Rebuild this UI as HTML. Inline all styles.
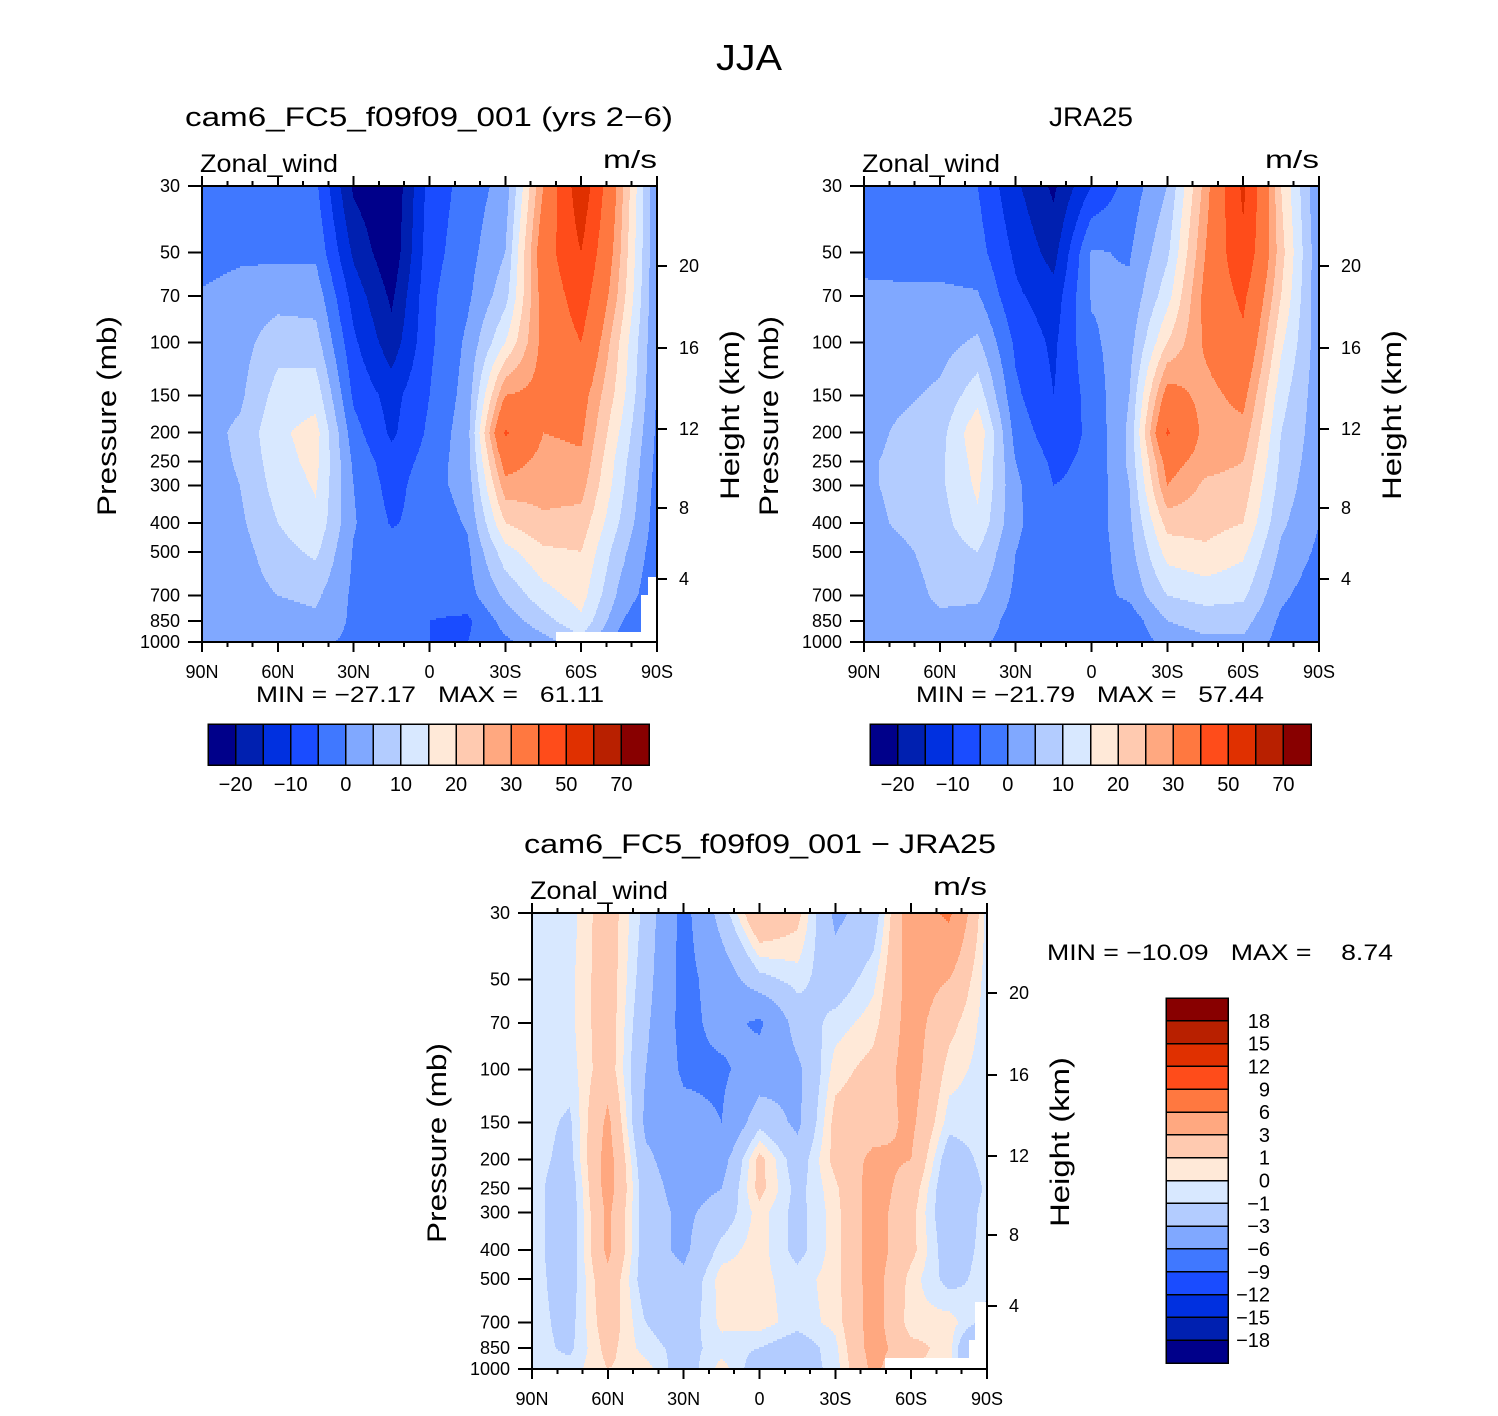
<!DOCTYPE html>
<html><head><meta charset="utf-8"><title>JJA Zonal wind</title>
<style>
html,body{margin:0;padding:0;background:#fff;}
svg text{font-family:"Liberation Sans",sans-serif;fill:#000;white-space:pre;}
</style></head>
<body>
<svg id="fig" width="1498" height="1411" viewBox="0 0 1498 1411" xmlns="http://www.w3.org/2000/svg" shape-rendering="crispEdges">
<rect x="0" y="0" width="1498" height="1411" fill="#fff"/>
<text x="749" y="70" font-size="36" text-anchor="middle" textLength="66" lengthAdjust="spacingAndGlyphs">JJA</text>
</svg>
<script>
const pressures = [30,50,70,100,150,200,250,300,400,500,700,850,1000];
const lats = [90,75,60,45,30,15,0,-15,-30,-45,-60,-75,-90];
const latTickLabels = ["90N","60N","30N","0","30S","60S","90S"];
const latTickValues = [90,60,30,0,-30,-60,-90];
const heightTickLabels = ["20","16","12","8","4"];
const levelsMain = [-20,-15,-10,-5,0,5,10,15,20,25,30,40,50,60,70];
const levelsDiff = [-18,-15,-12,-9,-6,-3,-1,0,1,3,6,9,12,15,18];
const mainBarLabels = ["\u221220","\u221210","0","10","20","30","50","70"];
const diffBarLabels = ["\u221218","\u221215","\u221212","\u22129","\u22126","\u22123","\u22121","0","1","3","6","9","12","15","18"];
const colors = ["#00008a","#0020b0","#0030e0","#1a4cff","#4078ff","#80a8ff","#b3ccff","#d8e8ff","#ffe9d8","#ffcab0","#ffa880","#ff7840","#ff4c1a","#e03000","#b82000","#880000"];
const camU = [
[-3,-3,-4,-4,-21,-25,-8,-3,2,30,57,28,0],
[-2,-1,-1,-1,-16,-24,-7,-2,5,35,50,26,0],
[0.5,2,3,3,-12,-21,-6,-1,8,33,45,24,0],
[2,3,8,7,-9,-18,-6,1,15,32,40,20,0],
[3,4,12,13,-6,-12,-5,2,30,32,33,18,-0.5],
[3,6,14,17,-3,-11,-4,3,41,30,31,15,-1],
[3,5.5,13,16.5,-1,-8,-3,3,33,28,29,13,-1.5],
[3,5,12,15.5,0,-7,-2,2,28,27,27,12,-2],
[3,4,10,14,0.5,-5.5,-3,0.5,20,24,23,10,-2.5],
[3,3,8,11,-0.5,-3,-3,-1,13,19,20,7,-3],
[3,2.5,5,6,-1,-2,-3,-2,6,13,17,4,-4],
[2,2,3,4,-1,-3,-5,-6,2,8,14,1,-8],
[1,0,1,1,-1,-2,-5,-5,-1,3,8,-2,-8]];
const jraU = [
[-3,-3,-4,-5,-14,-21,-10,-3,5,27,52,20,0],
[-1.5,-2,-2,-3,-11,-17,0.5,-0.5,9,30,48,22,1],
[1,1,1,0.5,-9,-13,0.5,1,13,32,42,20,1],
[2,2,3,6,-6,-11,-1,3,20,31,38,16,2],
[3,4,6,13,-4,-10,-3,5,33,28,32,12,2],
[3,6,8,19,-2,-8,-4,6,41,28,28,10,2],
[4,6.5,9,17,0,-6,-4,6,33,27,25,9,1.5],
[4,6.5,9,16,1,-5,-4,5,30,24,23,8,1],
[3,6,8,14,1,-4,-3,4,22,22,20,6,0],
[2,4,7,10,0,-3,-3,3,17,19,16,4,-1],
[2,2.5,6,6,-1,-2.5,-2,1,10,12,11,1,-3],
[2,2,4,3,-2,-3,-3,-3,5,7,7,-1,-4],
[1,1,1,1,-2,-3,-2,-4,2,4,4,-2,-3]];
const diffU = [
[-0.5,-0.5,2,-1.5,-7,-2,3,1.5,-3.5,-2,4.5,6.5,-0.5],
[-0.5,-0.3,2,-2,-7,-4.5,-1.5,-0.5,-2,-0.3,4,3,-0.5],
[-0.5,-0.3,2,-2.5,-7,-5,-6.5,-2,-0.5,0.5,4,1.5,-0.5],
[-0.5,-0.5,2,-3,-6.5,-6.5,-4.5,-3.5,0.5,1.5,4,0.5,-0.5],
[-0.5,-1.2,3.5,-3.5,-5,-6,-1.5,-3.5,1.5,2,3.5,-0.5,-0.5],
[-0.5,-1.5,4,-2.5,-4.5,-4,1.5,-2,1.5,3.5,3,-2,-0.5],
[-0.5,-2,4,-2,-4,-3,1.5,-1.5,0.7,4,2,-2.5,-0.8],
[-0.5,-2,3.5,-2,-3.5,-2,0.5,-1.5,0.5,4,1.5,-2.5,-0.5],
[-0.5,-2,3.5,-2,-3.5,-0.5,0.5,-1.5,0.5,4,1.5,-2,-0.5],
[-0.5,-1.8,2.5,-2,-2.5,0.5,0.3,-0.5,0.5,4,0.5,-1.5,-0.5],
[-0.5,-1.5,2,-1,-2,0.3,0.5,-0.5,0.3,4,0.3,0.5,-1.5],
[-0.5,-1.3,1.5,-0.5,-1.5,-0.5,-1,-2,-0.3,4,1.5,0.5,-6],
[-0.5,-0.5,1,0.5,-2,0.5,-2,-2,-0.5,3.5,1,0.5,-6]];

const NS = "http://www.w3.org/2000/svg";
const svg = document.getElementById("fig");
const PW = 455, PH = 456;
function mk(tag, attrs, parent){const e=document.createElementNS(NS,tag);for(const k in attrs)e.setAttribute(k,attrs[k]);(parent||svg).appendChild(e);return e;}
function xScale(lat, ox){return ox + (90-lat)/180*PW;}
function yScale(p, oy){return oy + Math.log(p/30)/Math.log(1000/30)*PH;}
function sample(grid, lat, p){
  let ci=(90-lat)/15; if(ci<0)ci=0; if(ci>12)ci=12;
  const c0=Math.min(11,Math.floor(ci)), fc=ci-c0;
  const lp=Math.log(p); let r0=0;
  for(let i=0;i<pressures.length-1;i++){ if(lp>=Math.log(pressures[i])) r0=i; }
  r0=Math.min(r0,pressures.length-2);
  let fr=(lp-Math.log(pressures[r0]))/(Math.log(pressures[r0+1])-Math.log(pressures[r0]));
  fr=Math.max(0,Math.min(1,fr));
  const a=grid[r0][c0],b=grid[r0][c0+1],c=grid[r0+1][c0],d=grid[r0+1][c0+1];
  return (a*(1-fc)+b*fc)*(1-fr)+(c*(1-fc)+d*fc)*fr;
}
function colorIdx(v, levels){let i=0;while(i<levels.length&&v>=levels[i])i++;return i;}

function drawPanel(name, grid, levels, ox, oy){
  const g=mk("g",{});
  
  
  const dy=2;
  for(let py=0; py<PH; py+=dy){
    const p=30*Math.pow(1000/30,(py+dy/2)/PH);
    let start=0, cur=-1;
    for(let px=0; px<=PW; px++){
      let idx=-2;
      if(px<PW){ const lat=90-(px+0.5)/PW*180; idx=colorIdx(sample(grid,lat,p),levels); }
      if(idx!==cur){
        if(cur>=0){
          const r=mk("rect",{x:ox+start,y:oy+py,width:px-start,height:dy,fill:colors[cur]},g);
          
          
        }
        start=px; cur=idx;
      }
    }
  }
}
function drawAxes(name, ox, oy, title, titleX, titleLen){
  const t=mk("text",{x:titleX,y:oy-60,"font-size":27,"text-anchor":"middle",textLength:titleLen,lengthAdjust:"spacingAndGlyphs"});
  t.textContent=title;
  
  
  const zw=mk("text",{x:ox-2,y:oy-14,"font-size":25,textLength:138,lengthAdjust:"spacingAndGlyphs"});
  zw.textContent="Zonal_wind";
  
  
  const un=mk("text",{x:ox+PW-54,y:oy-18,"font-size":25,textLength:54,lengthAdjust:"spacingAndGlyphs"});
  un.textContent="m/s";
  
  
  const ax=mk("g",{stroke:"#000","stroke-width":2});
  
  
  for(let lat=90; lat>=-90; lat-=10){
    const x=xScale(lat,ox); const major=(lat%30===0); const L=major?10:5;
    mk("line",{x1:x,y1:oy,x2:x,y2:oy-L},ax);
    mk("line",{x1:x,y1:oy+PH,x2:x,y2:oy+PH+L},ax);
  }
  latTickLabels.forEach((lab,i)=>{
    const tx=mk("text",{x:xScale(latTickValues[i],ox),y:oy+PH+36,"font-size":18,"text-anchor":"middle"});
    tx.textContent=lab;
    
    
  });
  pressures.forEach(p=>{
    const y=yScale(p,oy);
    mk("line",{x1:ox,y1:y,x2:ox-14,y2:y},ax);
    const ty=mk("text",{x:ox-22,y:y+6,"font-size":18,"text-anchor":"end"});
    ty.textContent=String(p);
    
    
  });
  const hOff=[80,162,243,322,393];
  heightTickLabels.forEach((lab,i)=>{
    const y=oy+hOff[i];
    mk("line",{x1:ox+PW,y1:y,x2:ox+PW+10,y2:y},ax);
    const th=mk("text",{x:ox+PW+22,y:y+6,"font-size":18});
    th.textContent=lab;
    
    
  });
  mk("rect",{x:ox,y:oy,width:PW,height:PH,fill:"none"},ax);
  const yl=mk("text",{x:0,y:0,"font-size":27,"text-anchor":"middle",textLength:200,lengthAdjust:"spacingAndGlyphs",transform:`translate(${ox-86},${oy+230}) rotate(-90)`});
  yl.textContent="Pressure (mb)";
  
  
  const hl=mk("text",{x:0,y:0,"font-size":27,"text-anchor":"middle",textLength:170,lengthAdjust:"spacingAndGlyphs",transform:`translate(${ox+PW+82},${oy+229}) rotate(-90)`});
  hl.textContent="Height (km)";
  
  
}
function hBar(name, ox, oy){
  const g=mk("g",{});
  
  
  const bw=441/16;
  colors.forEach((c,i)=>{
    const r=mk("rect",{x:ox+i*bw,y:oy,width:bw,height:41,fill:c,stroke:"#000","stroke-width":1.5},g);
    
    
  });
  mainBarLabels.forEach((lab,i)=>{
    const t=mk("text",{x:ox+(1+2*i)*bw,y:oy+67,"font-size":20,"text-anchor":"middle"},g);
    t.textContent=lab;
    
    
  });
}
function whiteMask(name, pts){
  const m=mk("polygon",{points:pts,fill:"#fff"});
  
  
}

drawPanel("cam6-panel", camU, levelsMain, 202, 186);
whiteMask("cam6-panel","556,632 641,632 641,595 648,595 648,577 656,577 656,642 556,642");
drawAxes("cam6-panel", 202, 186, "cam6_FC5_f09f09_001 (yrs 2\u22126)", 429, 488);
const mm1=mk("text",{x:256,y:702,"font-size":22,textLength:348,lengthAdjust:"spacingAndGlyphs"});
mm1.textContent="MIN = \u221227.17   MAX =   61.11";


hBar("cam6-panel", 208, 724);

drawPanel("jra25-panel", jraU, levelsMain, 864, 186);
drawAxes("jra25-panel", 864, 186, "JRA25", 1091, 84);
const mm2=mk("text",{x:916,y:702,"font-size":22,textLength:348,lengthAdjust:"spacingAndGlyphs"});
mm2.textContent="MIN = \u221221.79   MAX =   57.44";


hBar("jra25-panel", 870, 724);

drawPanel("diff-panel", diffU, levelsDiff, 532, 913);
whiteMask("diff-panel","885,1358 969,1358 969,1340 975,1340 975,1302 987,1302 987,1369 885,1369");
drawAxes("diff-panel", 532, 913, "cam6_FC5_f09f09_001 \u2212 JRA25", 760, 472);
const mm3=mk("text",{x:1047,y:960,"font-size":22,textLength:346,lengthAdjust:"spacingAndGlyphs"});
mm3.textContent="MIN = \u221210.09   MAX =    8.74";


const vb=mk("g",{});


const bh=365/16;
colors.forEach((c,i)=>{
  const r=mk("rect",{x:1166,y:998+(15-i)*bh,width:62,height:bh,fill:c,stroke:"#000","stroke-width":1.5},vb);
  
  
});
diffBarLabels.forEach((lab,i)=>{
  const y=998+(15-i)*bh;
  const t=mk("text",{x:1270,y:y+7,"font-size":20,"text-anchor":"end"},vb);
  t.textContent=lab;
  
  
});
</script>
</body></html>
